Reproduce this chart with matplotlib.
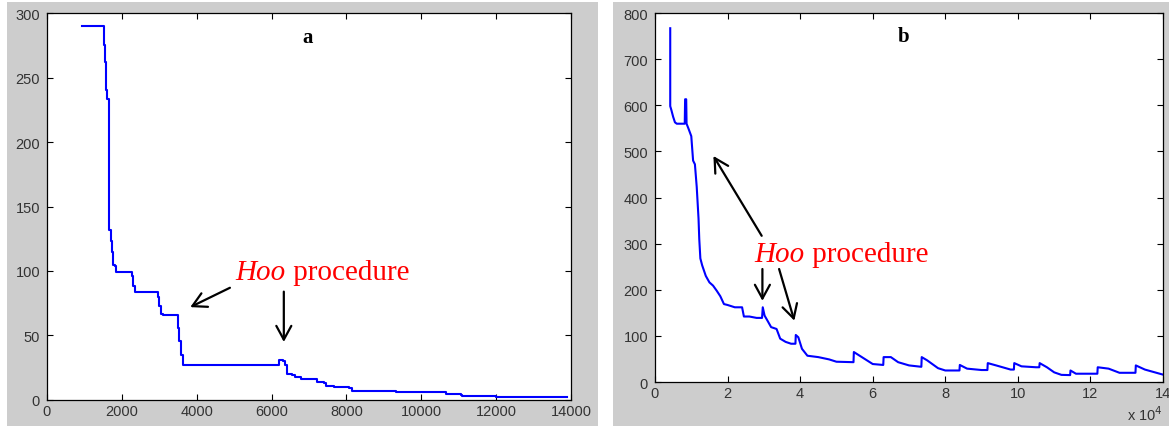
import matplotlib
matplotlib.use('Agg')
import matplotlib.pyplot as plt
from matplotlib.patches import Rectangle

# panel a: x in iterations, y value
xa = [930, 1490, 1526, 1560, 1570, 1615, 1651, 1668, 1700, 1735, 1753, 1825, 1842, 2217,
      2270, 2289, 2342, 2931, 2967, 3003, 3047, 3091, 3466, 3502, 3538, 3583, 3628,
      6166, 6210, 6300, 6370, 6415, 6550, 6640, 6780, 7180, 7225, 7400, 7450, 7670,
      8070, 8160, 9270, 9320, 10610, 10655, 11060, 11100, 11950, 12000, 13900]
ya = [290, 290, 275, 262, 240, 233, 222, 132, 123, 115, 105, 104, 99, 99,
      96, 88, 84, 84, 80, 73, 67, 66, 66, 56, 46, 35, 27,
      27, 31, 30, 27, 20, 19, 18, 16.5, 16, 14, 13, 10.6, 9.8,
      9, 6.7, 6.7, 5.9, 5.9, 4.7, 3.9, 3.1, 3.1, 2.1, 2]

# panel b: x in units of 1e4
xb = [0.42, 0.42, 0.45, 0.50, 0.55, 0.60, 0.82, 0.83, 0.86, 0.87, 0.92, 1.00, 1.05, 1.10,
      1.15, 1.20, 1.22, 1.25, 1.30, 1.40, 1.50, 1.60, 1.70, 1.80, 1.90, 2.00, 2.20,
      2.40, 2.45, 2.60, 2.80, 2.95, 2.97, 3.02, 3.10, 3.20, 3.35, 3.45, 3.60, 3.75,
      3.87, 3.88, 3.95, 4.05, 4.20, 4.50, 4.80, 5.00, 5.47, 5.48, 5.70, 6.00, 6.29,
      6.30, 6.50, 6.70, 7.00, 7.34, 7.35, 7.50, 7.80, 8.00, 8.39, 8.40, 8.60, 9.00,
      9.16, 9.17, 9.40, 9.80, 9.89, 9.90, 10.10, 10.50, 10.59, 10.60, 10.80, 11.00,
      11.20, 11.44, 11.45, 11.60, 12.10, 12.19, 12.20, 12.50, 12.80, 13.24, 13.25,
      13.50, 14.00]
yb = [767, 598, 590, 575, 563, 560, 560, 613, 613, 560, 550, 533, 480, 472,
      423, 354, 310, 268, 253, 230, 216, 209, 198, 186, 169, 167, 162,
      162, 142, 142, 139, 139, 162, 144, 133, 119, 115, 94, 87, 83,
      83, 102, 97, 72, 57, 54, 49, 44, 43, 65, 54, 39, 37,
      54, 54, 43, 36, 33, 54, 47, 30, 25, 25, 37, 29, 26,
      26, 41, 36, 27, 27, 41, 34, 32, 32, 41, 32, 21,
      15.5, 15, 25, 18, 18, 18, 32, 29, 20, 20, 36,
      27, 16]

gray = '#cdcdcd'
tick_col = '#333333'
serif = ['Liberation Serif', 'DejaVu Serif']

fig = plt.figure(figsize=(11.69, 4.27), dpi=100)
fig.patch.set_facecolor('white')
fig.patches.append(Rectangle((0.006, 0.0), 0.5056, 0.993, transform=fig.transFigure,
                             facecolor=gray, edgecolor='none', zorder=-5))
fig.patches.append(Rectangle((0.5244, 0.0), 0.4756, 0.993, transform=fig.transFigure,
                             facecolor=gray, edgecolor='none', zorder=-5))

ax1 = fig.add_axes([0.0402, 0.0609, 0.4482, 0.9063])
ax2 = fig.add_axes([0.5603, 0.1030, 0.4346, 0.8642])

ax1.plot(xa, ya, color='#0000ff', lw=1.5, drawstyle='steps-post')
ax1.set_xlim(0, 14000)
ax1.set_ylim(0, 300)
ax1.set_xticks(range(0, 14001, 2000))
ax1.set_yticks(range(0, 301, 50))
ax1.text(0.497, 0.965, 'a', transform=ax1.transAxes, ha='center', va='top',
         fontsize=15, fontweight='bold', family=serif)

ax2.plot(xb, yb, color='#0000ff', lw=1.5)
ax2.set_xlim(0, 14)
ax2.set_ylim(0, 800)
ax2.set_xticks(range(0, 15, 2))
ax2.set_yticks(range(0, 801, 100))
ax2.text(0.49, 0.965, 'b', transform=ax2.transAxes, ha='center', va='top',
         fontsize=15, fontweight='bold', family=serif)

for ax in (ax1, ax2):
    ax.set_facecolor('white')
    ax.tick_params(direction='in', top=True, right=True, length=4, width=0.8,
                   labelsize=10.5, labelcolor=tick_col)
    ax.tick_params(axis='x', pad=3)
    ax.tick_params(axis='y', pad=5)
    for lab in ax.get_xticklabels() + ax.get_yticklabels():
        lab.set_family('Liberation Sans')
    for s in ax.spines.values():
        s.set_linewidth(0.9)

fig.text(0.995, 0.014, r'x 10$^4$', ha='right', va='baseline', fontsize=10.5,
         color=tick_col, family='Liberation Sans')

arrow = dict(arrowstyle='->,head_length=0.55,head_width=0.3', lw=1.6, color='black',
             shrinkA=0, shrinkB=0, mutation_scale=18)

# Hoo procedure labels
for ax, (tx, ty) in ((ax1, (5033, 93.8)), (ax2, (2.74, 263))):
    t = ax.text(tx, ty, 'Hoo', fontsize=21, color='red', family=serif,
                style='italic', ha='left', va='baseline')
    ax.annotate(' procedure', xy=(1.0, 0.0), xycoords=t, fontsize=21, color='red',
                family=serif, ha='left', va='bottom')

ax1.annotate('', xy=(3828, 72), xytext=(4888, 87), arrowprops=arrow)
ax1.annotate('', xy=(6328, 45), xytext=(6328, 84), arrowprops=arrow)
ax2.annotate('', xy=(1.61, 490), xytext=(2.94, 317), arrowprops=arrow)
ax2.annotate('', xy=(2.96, 176), xytext=(2.96, 245), arrowprops=arrow)
ax2.annotate('', xy=(3.84, 133), xytext=(3.42, 245), arrowprops=arrow)

fig.savefig('out.png', dpi=100, facecolor=fig.get_facecolor())
